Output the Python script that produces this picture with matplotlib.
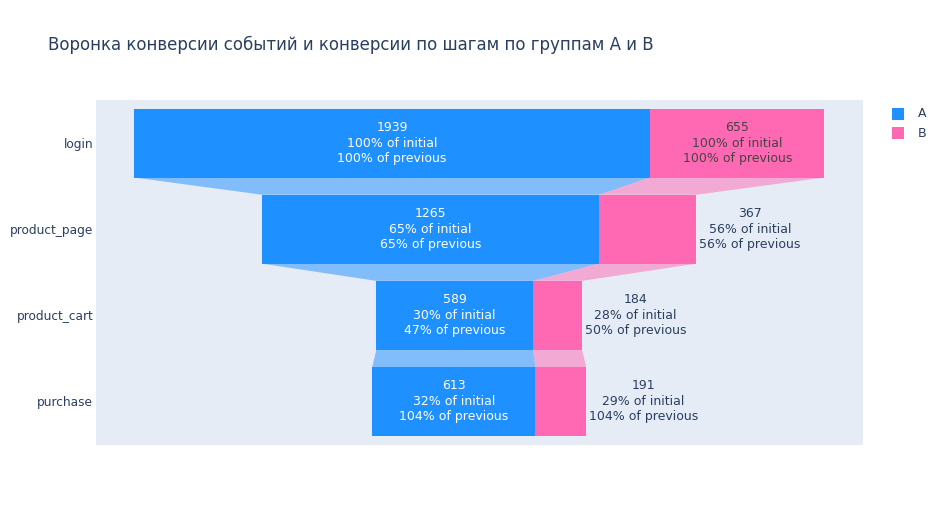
import matplotlib.pyplot as plt
from matplotlib.patches import Rectangle, Polygon

# данные воронки
steps = ['login', 'product_page', 'product_cart', 'purchase']
group_a = [1939, 1265, 589, 613]
group_b = [655, 367, 184, 191]
groups = ['A', 'B']
colors = ['#1E90FF', '#FF69B4']
text_colors = ['white', '#444444']

plt.rcParams['font.family'] = ['DejaVu Sans']
dark = '#2a3f5f'
bg = '#E5ECF6'

fig = plt.figure(figsize=(9.43, 5.25), dpi=100)
ax = fig.add_axes([96 / 943, 1 - 444.5 / 525, 766.7 / 943, 344.5 / 525])
ax.set_facecolor(bg)

h = 0.8
totals = [a + b for a, b in zip(group_a, group_b)]
lefts = [-t / 2 for t in totals]

series = [group_a, group_b]
for gi, vals in enumerate(series):
    edges = []
    for i, v in enumerate(vals):
        left = lefts[i] + (group_a[i] if gi == 1 else 0)
        right = left + v
        edges.append((left, right))
        ax.add_patch(Rectangle((left, i - h / 2), v, h, facecolor=colors[gi],
                               edgecolor='none', zorder=2))
        # подписи
        pi = round(v / vals[0] * 100)
        pp = round(v / vals[i - 1] * 100) if i > 0 else 100
        label = f'{v}\n{pi}% of initial\n{pp}% of previous'
        # помещается ли текст внутри
        if v > 500:
            ax.text(left + v / 2, i, label, ha='center', va='center', fontsize=9,
                    color=text_colors[gi], linespacing=1.25, zorder=4)
        else:
            ax.annotate(label, (right, i), xytext=(2, 0), textcoords='offset points',
                        ha='left', va='center', multialignment='center', fontsize=9,
                        color=dark, linespacing=1.25, zorder=4)
    # соединители между шагами
    for i in range(len(vals) - 1):
        (l0, r0), (l1, r1) = edges[i], edges[i + 1]
        poly = [(l0, i + h / 2), (r0, i + h / 2), (r1, i + 1 - h / 2), (l1, i + 1 - h / 2)]
        ax.add_patch(Polygon(poly, closed=True, facecolor=colors[gi], alpha=0.5,
                             edgecolor='none', zorder=1))

ax.set_xlim(-1440, 1441)
ax.set_ylim(3.5, -0.5)
ax.set_yticks(range(len(steps)))
ax.set_yticklabels(steps, fontsize=8.7, color=dark)
ax.set_xticks([])
ax.tick_params(axis='y', length=0, pad=2)
for s in ax.spines.values():
    s.set_visible(False)

fig.text(48 / 943, 1 - 45 / 525, 'Воронка конверсии событий и конверсии по шагам по группам А и В',
         fontsize=12, color=dark, ha='left', va='center')

# легенда
for k, g in enumerate(groups):
    yc = 114 + k * 19
    fig.patches.append(Rectangle((892 / 943, 1 - (yc + 6) / 525), 12 / 943, 12 / 525,
                                 transform=fig.transFigure, facecolor=colors[k],
                                 edgecolor='none'))
    fig.text(918 / 943, 1 - yc / 525, g, fontsize=9, color=dark, ha='left', va='center')

plt.savefig('out.png', dpi=100)
